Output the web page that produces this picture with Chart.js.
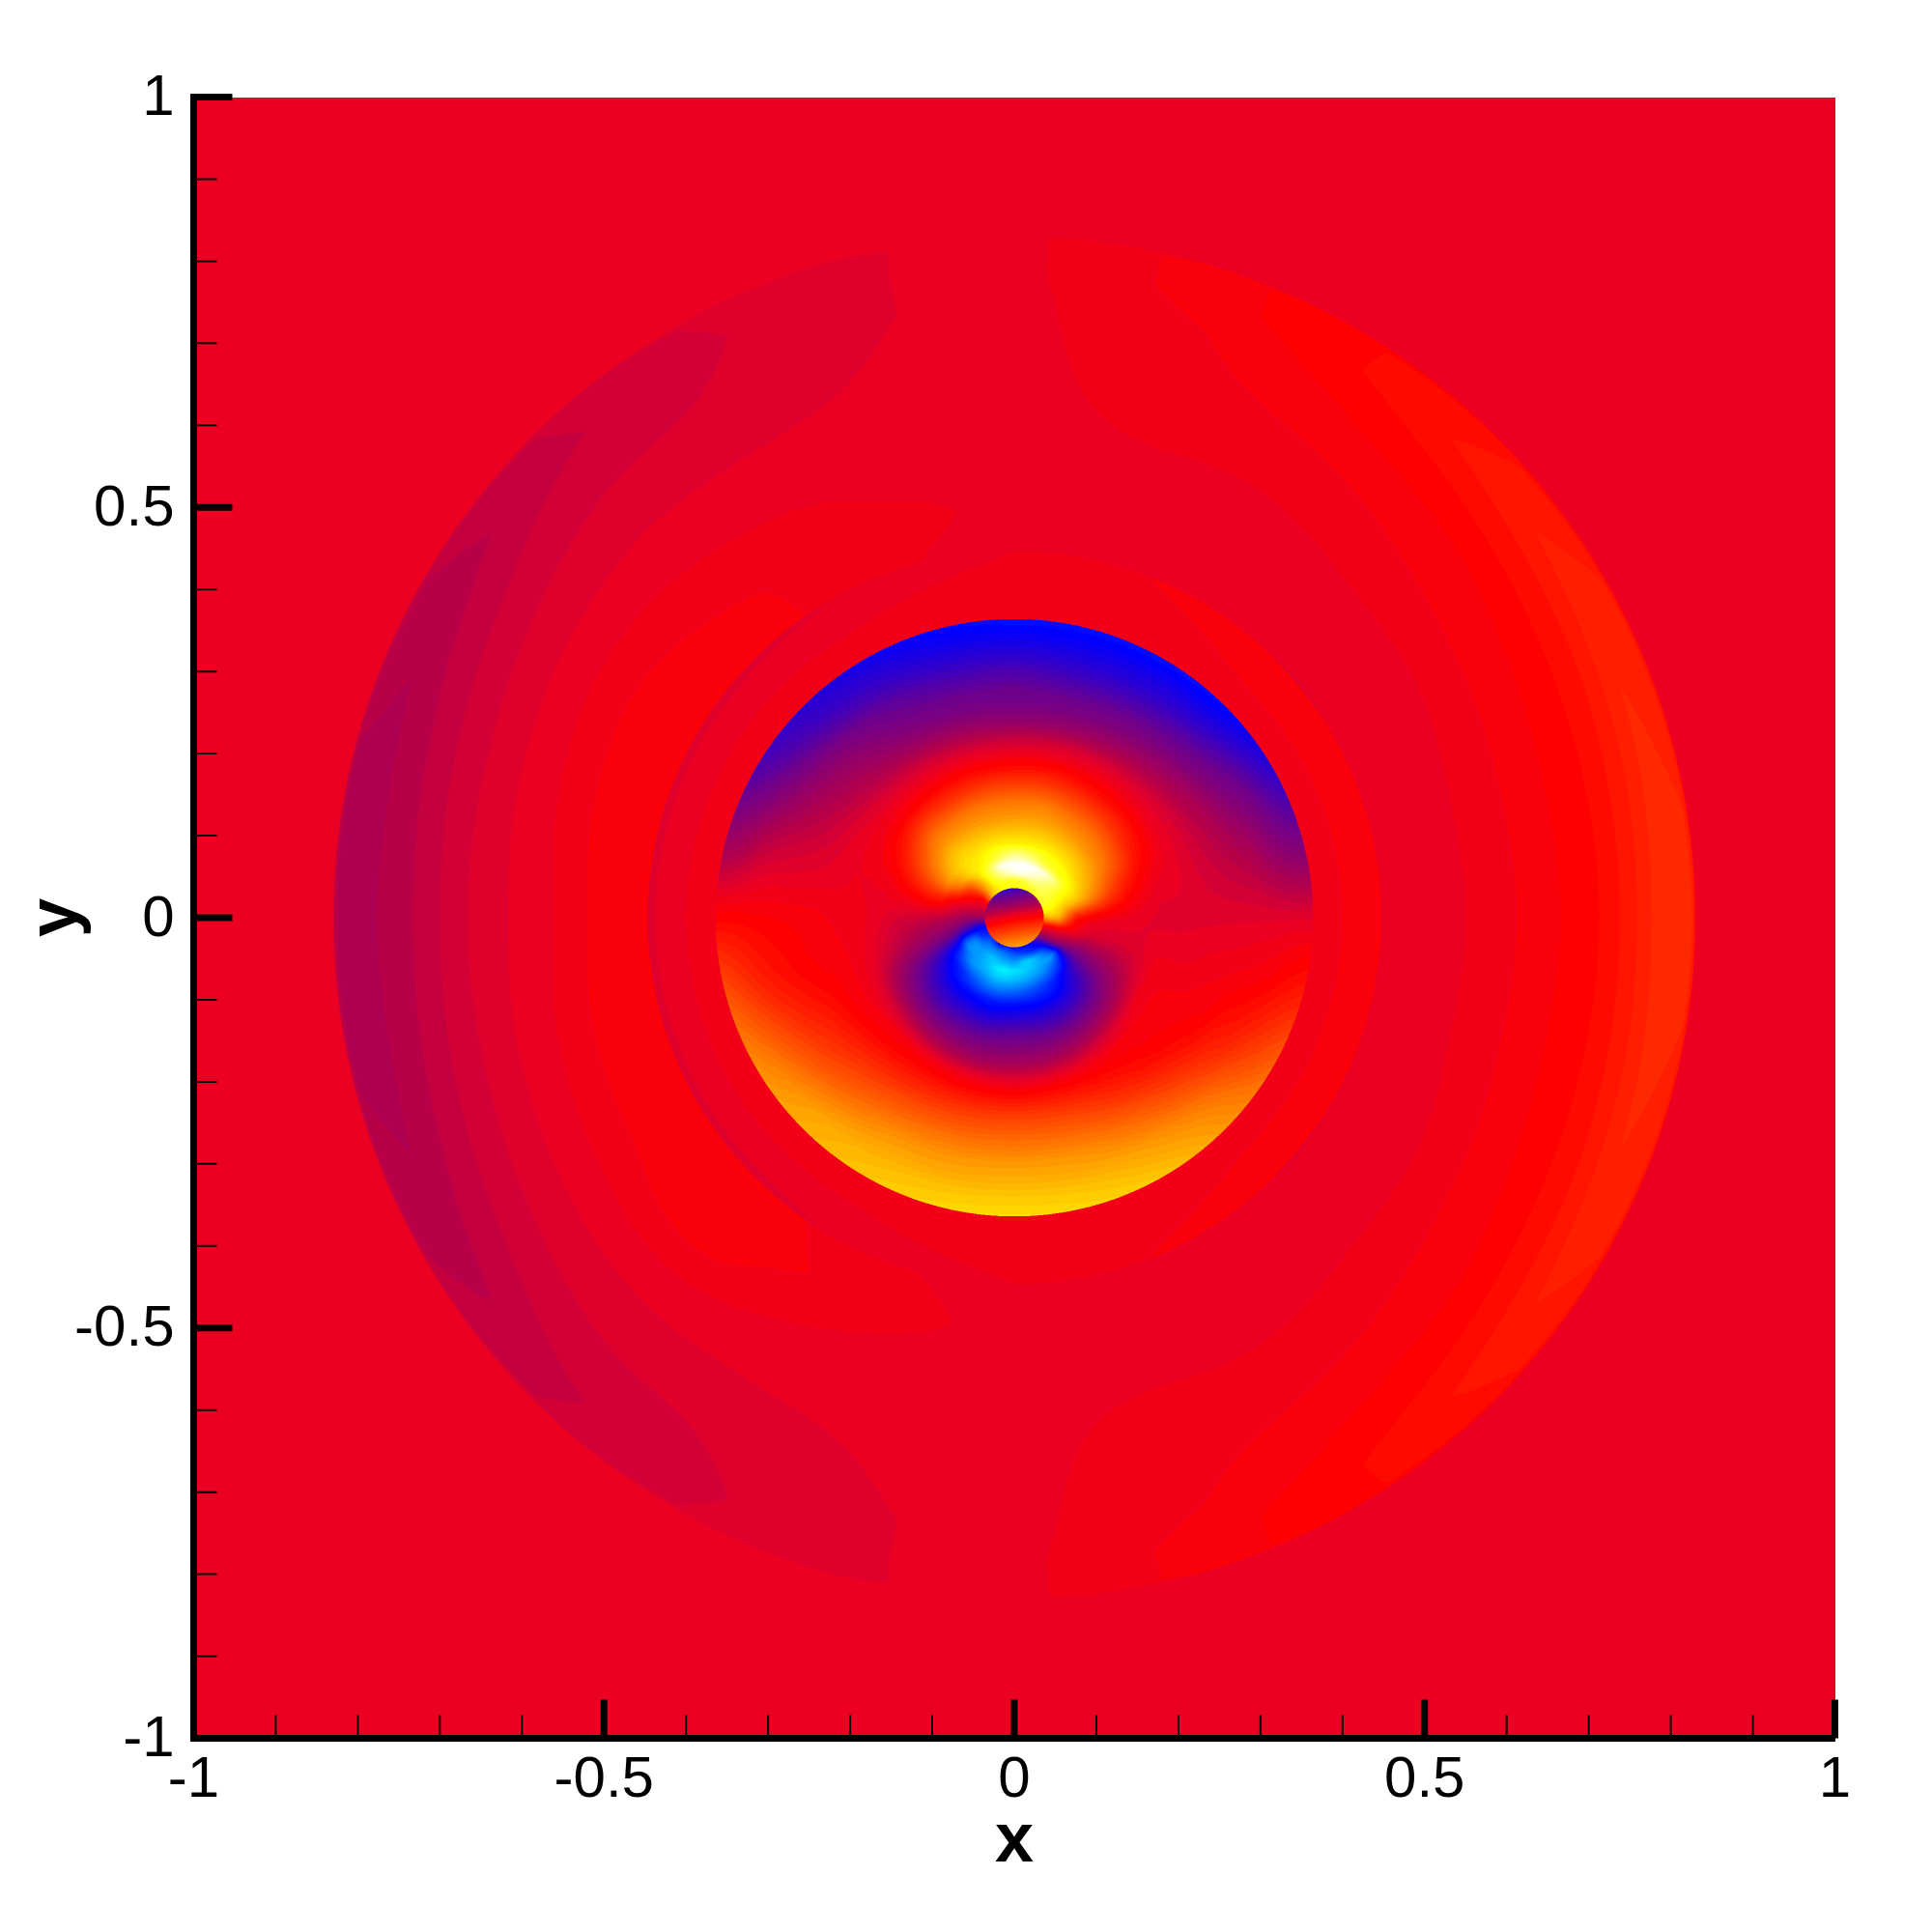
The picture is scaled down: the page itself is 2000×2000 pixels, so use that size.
<!DOCTYPE html>
<html>
<head>
<meta charset="utf-8">
<style>
  html, body { margin: 0; padding: 0; background: #fff; }
  canvas { display: block; }
</style>
<script src="https://cdn.jsdelivr.net/npm/chart.js@4/dist/chart.umd.min.js"></script>
</head>
<body>
<canvas id="canvas" width="2000" height="2000"></canvas>
<script>
// axes
const tickValues = [-1, -0.9, -0.8, -0.7, -0.6, -0.5, -0.4, -0.3, -0.2, -0.1, 0, 0.1, 0.2, 0.3, 0.4, 0.5, 0.6, 0.7, 0.8, 0.9, 1];
const majorTicks = [-1, -0.5, 0, 0.5, 1];
const majorLabels = ['-1', '-0.5', '0', '0.5', '1'];

// angle of each column of the tables below, degrees counter clockwise from +x
const angles = [0, 15, 30, 45, 60, 75, 90, 105, 120, 135, 150, 165, 180, 195, 210, 225, 240, 255, 270, 285, 300, 315, 330, 345];

// contour level outside all the rings
const backgroundLevel = -0.12;

// small circle in the middle
const coreRadii = [0, 0.018, 0.036];
const coreValues = [
  [-0.04, -0.04, -0.04, -0.04, -0.04, -0.04, -0.04, -0.04, -0.04, -0.04, -0.04, -0.04, -0.04, -0.04, -0.04, -0.04, -0.04, -0.04, -0.04, -0.04, -0.04, -0.04, -0.04, -0.04],
  [0, -0.1, -0.2, -0.28, -0.36, -0.4, -0.44, -0.44, -0.42, -0.38, -0.3, -0.22, -0.12, -0.02, 0.06, 0.14, 0.2, 0.26, 0.28, 0.28, 0.26, 0.22, 0.16, 0.08],
  [0.04, -0.14, -0.33, -0.49, -0.63, -0.73, -0.79, -0.8, -0.76, -0.67, -0.54, -0.38, -0.2, -0.02, 0.17, 0.33, 0.47, 0.58, 0.63, 0.64, 0.6, 0.51, 0.38, 0.22]
];

// inner disc
const discRadii = [0.036, 0.045, 0.055, 0.065, 0.075, 0.09, 0.105, 0.12, 0.14, 0.16, 0.18, 0.2, 0.22, 0.24, 0.26, 0.28, 0.3, 0.32, 0.34, 0.364];
const discValues = [
  [0.6, 1, 1.1, 1.1, 1, 1, 1, 1, 0.9, 0.7, 0.1, -0.2, -0.4, -0.9, -1.1, -1.2, -1, -1.1, -1, -1, -1, -0.7, -0.3, 0],
  [0.7, 1, 1.2, 1.3, 1.3, 1.2, 1.1, 1.1, 0.95, 0.6, 0, -0.2, -0.4, -0.95, -1.2, -1.45, -1.5, -1.45, -1.35, -1.25, -1.1, -0.9, -0.35, -0.05],
  [0.65, 0.9, 1.15, 1.4, 1.7, 1.9, 1.9, 1.6, 1.1, 0.6, 0.1, -0.15, -0.4, -0.85, -1.5, -1.6, -1.75, -1.7, -1.65, -1.8, -1.65, -1.2, -0.4, -0.05],
  [0.35, 0.8, 1.1, 1.6, 1.9, 2, 2, 1.9, 1.2, 0.7, 0.2, -0.1, -0.35, -0.75, -1.5, -1.6, -1.75, -1.95, -1.9, -1.8, -1.65, -1.5, -0.5, -0.1],
  [0.1, 0.75, 1, 1.1, 1.2, 1.5, 1.6, 1.3, 1, 0.85, 0.45, -0.05, -0.3, -0.6, -1.15, -1.55, -1.65, -1.8, -1.75, -1.65, -1.5, -1.2, -0.55, -0.12],
  [0, 0.6, 0.8, 0.9, 0.95, 0.95, 0.95, 0.95, 0.9, 0.85, 0.6, 0.1, -0.25, -0.5, -0.95, -1.15, -1.35, -1.45, -1.4, -1.3, -1.15, -0.9, -0.55, -0.2],
  [-0.05, 0.42, 0.65, 0.75, 0.78, 0.8, 0.78, 0.78, 0.78, 0.75, 0.5, 0.1, -0.22, -0.45, -0.8, -1, -1.05, -1.08, -1.05, -1.05, -1, -0.8, -0.5, -0.2],
  [-0.08, 0.25, 0.5, 0.58, 0.62, 0.64, 0.62, 0.62, 0.62, 0.6, 0.38, 0.05, -0.2, -0.38, -0.7, -0.85, -0.9, -0.92, -0.88, -0.88, -0.85, -0.72, -0.45, -0.2],
  [-0.1, 0.08, 0.32, 0.42, 0.45, 0.5, 0.47, 0.47, 0.45, 0.42, 0.2, -0.02, -0.18, -0.3, -0.55, -0.68, -0.7, -0.7, -0.66, -0.68, -0.66, -0.55, -0.35, -0.18],
  [-0.13, -0.03, 0.12, 0.22, 0.25, 0.28, 0.27, 0.25, 0.22, 0.2, 0.05, -0.08, -0.14, -0.2, -0.38, -0.48, -0.52, -0.52, -0.5, -0.5, -0.46, -0.35, -0.22, -0.15],
  [-0.15, -0.1, 0, 0.05, 0.06, 0.08, 0.06, 0.05, 0.03, 0, -0.05, -0.1, -0.1, -0.12, -0.18, -0.24, -0.3, -0.34, -0.33, -0.32, -0.25, -0.15, -0.08, -0.1],
  [-0.15, -0.12, -0.1, -0.08, -0.07, -0.08, -0.1, -0.1, -0.1, -0.1, -0.1, -0.1, -0.08, -0.07, -0.07, -0.05, -0.07, -0.1, -0.12, -0.1, -0.07, -0.04, -0.05, -0.1],
  [-0.15, -0.16, -0.16, -0.18, -0.2, -0.22, -0.25, -0.25, -0.22, -0.2, -0.15, -0.12, -0.07, -0.04, -0.02, 0.02, 0.05, 0.05, 0.05, 0.05, 0.02, -0.02, -0.04, -0.1],
  [-0.15, -0.2, -0.24, -0.3, -0.36, -0.42, -0.45, -0.42, -0.38, -0.3, -0.22, -0.14, -0.05, -0.02, 0.05, 0.12, 0.17, 0.2, 0.22, 0.2, 0.12, 0.03, -0.03, -0.08],
  [-0.15, -0.24, -0.32, -0.42, -0.5, -0.55, -0.57, -0.55, -0.5, -0.38, -0.28, -0.16, -0.04, 0, 0.12, 0.22, 0.3, 0.33, 0.35, 0.33, 0.23, 0.12, 0, -0.07],
  [-0.15, -0.28, -0.42, -0.55, -0.6, -0.63, -0.62, -0.62, -0.58, -0.46, -0.34, -0.18, -0.03, 0.04, 0.18, 0.32, 0.42, 0.46, 0.47, 0.45, 0.36, 0.22, 0.07, -0.05],
  [-0.15, -0.33, -0.52, -0.65, -0.72, -0.75, -0.72, -0.72, -0.65, -0.55, -0.42, -0.2, -0.02, 0.08, 0.26, 0.42, 0.55, 0.58, 0.6, 0.58, 0.48, 0.33, 0.12, -0.03],
  [-0.15, -0.42, -0.6, -0.78, -0.84, -0.86, -0.84, -0.83, -0.76, -0.68, -0.52, -0.25, -0.01, 0.14, 0.36, 0.54, 0.64, 0.66, 0.68, 0.66, 0.6, 0.45, 0.2, 0],
  [-0.15, -0.5, -0.72, -0.9, -0.93, -0.95, -0.95, -0.93, -0.85, -0.78, -0.62, -0.33, 0, 0.22, 0.46, 0.64, 0.72, 0.76, 0.78, 0.76, 0.68, 0.54, 0.28, 0.05],
  [-0.15, -0.55, -0.85, -1.02, -1.05, -1.05, -1.05, -1.02, -0.95, -0.85, -0.72, -0.4, 0, 0.32, 0.55, 0.68, 0.78, 0.84, 0.87, 0.84, 0.78, 0.6, 0.38, 0.1]
];

// thin ring around the disc
const ringRadii = [0.364, 0.4, 0.447];
const ringValues = [
  [-0.1, -0.1, -0.09, -0.09, -0.08, -0.08, -0.07, -0.07, -0.06, -0.06, -0.06, -0.06, -0.06, -0.06, -0.06, -0.06, -0.06, -0.07, -0.07, -0.08, -0.08, -0.09, -0.09, -0.1],
  [-0.06, -0.06, -0.06, -0.06, -0.07, -0.07, -0.08, -0.09, -0.1, -0.1, -0.1, -0.1, -0.1, -0.1, -0.1, -0.1, -0.1, -0.09, -0.08, -0.07, -0.07, -0.06, -0.06, -0.06],
  [-0.02, -0.02, -0.02, -0.03, -0.05, -0.07, -0.1, -0.12, -0.14, -0.15, -0.15, -0.15, -0.15, -0.15, -0.15, -0.15, -0.14, -0.12, -0.1, -0.07, -0.05, -0.03, -0.02, -0.02]
];

// wide outer ring
const outerRadii = [0.447, 0.5, 0.55, 0.6, 0.65, 0.7, 0.75, 0.79, 0.825, 0.83];
const outerValues = [
  [-0.14, -0.14, -0.14, -0.14, -0.13, -0.12, -0.11, -0.1, -0.07, -0.04, -0.03, -0.02, -0.02, -0.02, -0.03, -0.04, -0.07, -0.1, -0.11, -0.12, -0.13, -0.14, -0.14, -0.14],
  [-0.13, -0.13, -0.13, -0.13, -0.13, -0.12, -0.11, -0.09, -0.07, -0.05, -0.03, -0.03, -0.04, -0.03, -0.03, -0.03, -0.06, -0.09, -0.11, -0.12, -0.13, -0.13, -0.13, -0.13],
  [-0.1, -0.1, -0.11, -0.11, -0.12, -0.11, -0.11, -0.11, -0.09, -0.08, -0.07, -0.08, -0.09, -0.08, -0.07, -0.05, -0.09, -0.11, -0.11, -0.11, -0.12, -0.11, -0.11, -0.1],
  [-0.07, -0.07, -0.08, -0.09, -0.1, -0.1, -0.11, -0.12, -0.12, -0.11, -0.11, -0.12, -0.13, -0.12, -0.11, -0.1, -0.12, -0.12, -0.11, -0.1, -0.1, -0.09, -0.08, -0.07],
  [-0.03, -0.03, -0.04, -0.06, -0.08, -0.09, -0.11, -0.13, -0.14, -0.14, -0.15, -0.16, -0.16, -0.16, -0.15, -0.14, -0.14, -0.13, -0.11, -0.09, -0.08, -0.06, -0.04, -0.03],
  [0, 0, -0.01, -0.03, -0.05, -0.08, -0.11, -0.14, -0.17, -0.17, -0.19, -0.21, -0.22, -0.21, -0.19, -0.17, -0.17, -0.14, -0.11, -0.08, -0.05, -0.03, -0.01, 0],
  [0.08, 0.07, 0.05, 0.02, -0.02, -0.07, -0.11, -0.15, -0.18, -0.2, -0.24, -0.27, -0.28, -0.27, -0.24, -0.2, -0.18, -0.15, -0.11, -0.07, -0.02, 0.02, 0.05, 0.07],
  [0.17, 0.15, 0.12, 0.07, 0.01, -0.05, -0.11, -0.15, -0.19, -0.23, -0.28, -0.31, -0.31, -0.31, -0.28, -0.23, -0.19, -0.15, -0.11, -0.05, 0.01, 0.07, 0.12, 0.15],
  [0.15, 0.13, 0.1, 0.05, 0.01, -0.05, -0.11, -0.15, -0.18, -0.22, -0.26, -0.3, -0.3, -0.3, -0.26, -0.22, -0.18, -0.15, -0.11, -0.05, 0.01, 0.05, 0.1, 0.13],
  [0.06, 0.05, 0.03, 0.01, -0.01, -0.06, -0.11, -0.14, -0.16, -0.19, -0.21, -0.24, -0.24, -0.24, -0.21, -0.19, -0.16, -0.14, -0.11, -0.06, -0.01, 0.01, 0.03, 0.05]
];

// colour map, level to rgb
const mapLevels = [-2, -1.5, -1, -0.6, -0.3, -0.12, 0, 0.5, 1, 2];
const mapColors = [[0, 255, 255], [0, 128, 255], [0, 0, 255], [110, 0, 140], [178, 0, 77], [236, 0, 34], [255, 0, 0], [255, 128, 0], [255, 255, 0], [255, 255, 255]];
const contourStep = 0.04;

const zones = [
  { radii: coreRadii, values: coreValues },
  { radii: discRadii, values: discValues },
  { radii: ringRadii, values: ringValues },
  { radii: outerRadii, values: outerValues }
];

// smooth shading round a ring of table values
function aroundRing(row, i, f) {
  const n = row.length;
  const p0 = row[(i + n - 1) % n], p1 = row[i], p2 = row[(i + 1) % n], p3 = row[(i + 2) % n];
  return p1 + 0.5 * f * (p2 - p0 + f * (2 * p0 - 5 * p1 + 4 * p2 - p3 + f * (3 * (p1 - p2) + p3 - p0)));
}

function levelAt(x, y) {
  const r = Math.hypot(x, y);
  const zone = zones.find(z => r <= z.radii[z.radii.length - 1]);
  if (!zone) return backgroundLevel;
  let j = 0;
  while (j < zone.radii.length - 2 && r > zone.radii[j + 1]) j++;
  const fr = (r - zone.radii[j]) / (zone.radii[j + 1] - zone.radii[j]);
  let deg = Math.atan2(y, x) * 180 / Math.PI;
  if (deg < 0) deg += 360;
  const step = angles[1] - angles[0];
  const i = Math.floor(deg / step) % angles.length;
  const fa = deg / step - Math.floor(deg / step);
  const a = aroundRing(zone.values[j], i, fa);
  const b = aroundRing(zone.values[j + 1], i, fa);
  return a * (1 - fr) + b * fr;
}

function colorOf(level) {
  const t = Math.max(-2, Math.min(2, Math.round(level / contourStep) * contourStep));
  let k = 0;
  while (k < mapLevels.length - 2 && t > mapLevels[k + 1]) k++;
  const f = (t - mapLevels[k]) / (mapLevels[k + 1] - mapLevels[k]);
  return mapColors[k].map((c, n) => c + (mapColors[k + 1][n] - c) * f);
}

// flood of the field, read through the chart's scales
const fieldPlugin = {
  id: 'field',
  beforeDraw(chart) {
    const { ctx, chartArea, scales } = chart;
    const ss = 2;
    const w = Math.round(chartArea.width * ss);
    const h = Math.round(chartArea.height * ss);
    const off = document.createElement('canvas');
    off.width = w;
    off.height = h;
    const octx = off.getContext('2d');
    const img = octx.createImageData(w, h);
    let p = 0;
    for (let row = 0; row < h; row++) {
      const y = scales.y.getValueForPixel(chartArea.top + (row + 0.5) / ss);
      for (let col = 0; col < w; col++) {
        const x = scales.x.getValueForPixel(chartArea.left + (col + 0.5) / ss);
        const c = colorOf(levelAt(x, y));
        img.data[p++] = c[0];
        img.data[p++] = c[1];
        img.data[p++] = c[2];
        img.data[p++] = 255;
      }
    }
    octx.putImageData(img, 0, 0);
    ctx.save();
    ctx.imageSmoothingEnabled = true;
    ctx.drawImage(off, chartArea.left, chartArea.top, chartArea.width, chartArea.height);
    ctx.restore();
  }
};

// inward ticks, long at the labels and short between them
const ticksPlugin = {
  id: 'inwardTicks',
  afterDraw(chart) {
    const { ctx, chartArea, scales } = chart;
    ctx.save();
    ctx.strokeStyle = '#000';
    tickValues.forEach(v => {
      const major = majorTicks.includes(v);
      const len = major ? 40 : 24;
      ctx.lineWidth = major ? 7 : 2;
      const px = scales.x.getPixelForValue(v);
      const py = scales.y.getPixelForValue(v);
      ctx.beginPath();
      ctx.moveTo(px, chartArea.bottom);
      ctx.lineTo(px, chartArea.bottom - len);
      ctx.moveTo(chartArea.left, py);
      ctx.lineTo(chartArea.left + len, py);
      ctx.stroke();
    });
    ctx.restore();
  }
};

function axisOptions(title, titlePadding, labelPadding, labelOffset, fit) {
  return {
    type: 'linear',
    min: -1,
    max: 1,
    grid: { display: false, drawTicks: false },
    border: { display: true, color: '#000', width: 7 },
    afterBuildTicks(scale) {
      scale.ticks = tickValues.map(value => ({ value }));
    },
    afterFit: fit,
    ticks: {
      autoSkip: false,
      maxRotation: 0,
      minRotation: 0,
      padding: labelPadding,
      labelOffset: labelOffset,
      color: '#000',
      font: { family: '"Liberation Sans"', size: 60 },
      callback(value) {
        const i = majorTicks.indexOf(value);
        return i < 0 ? '' : majorLabels[i];
      }
    },
    title: {
      display: true,
      text: title,
      color: '#000',
      padding: titlePadding,
      font: { family: '"Liberation Sans"', size: 72, weight: 'bold' }
    }
  };
}

new Chart(document.getElementById('canvas'), {
  type: 'scatter',
  data: {
    datasets: [{
      label: 'field',
      // table nodes, the flood above paints between them
      data: zones.flatMap(z => z.radii.flatMap((r, j) => angles.map((a, i) => ({
        x: r * Math.cos(a * Math.PI / 180),
        y: r * Math.sin(a * Math.PI / 180),
        v: z.values[j][i]
      })))),
      pointRadius: 0,
      pointHoverRadius: 0
    }]
  },
  options: {
    responsive: false,
    devicePixelRatio: 1,
    animation: false,
    events: [],
    layout: { padding: { top: 100.5, right: 100.5, left: 0, bottom: 0 } },
    plugins: { legend: { display: false }, tooltip: { enabled: false } },
    scales: {
      x: axisOptions('x', { top: 0, bottom: 50 }, 8, 0, s => { s.height = 200.5; }),
      y: axisOptions('y', { top: 16, bottom: 0 }, 20, 2, s => { s.width = 200.5; })
    }
  },
  plugins: [fieldPlugin, ticksPlugin]
});
</script>
</body>
</html>
